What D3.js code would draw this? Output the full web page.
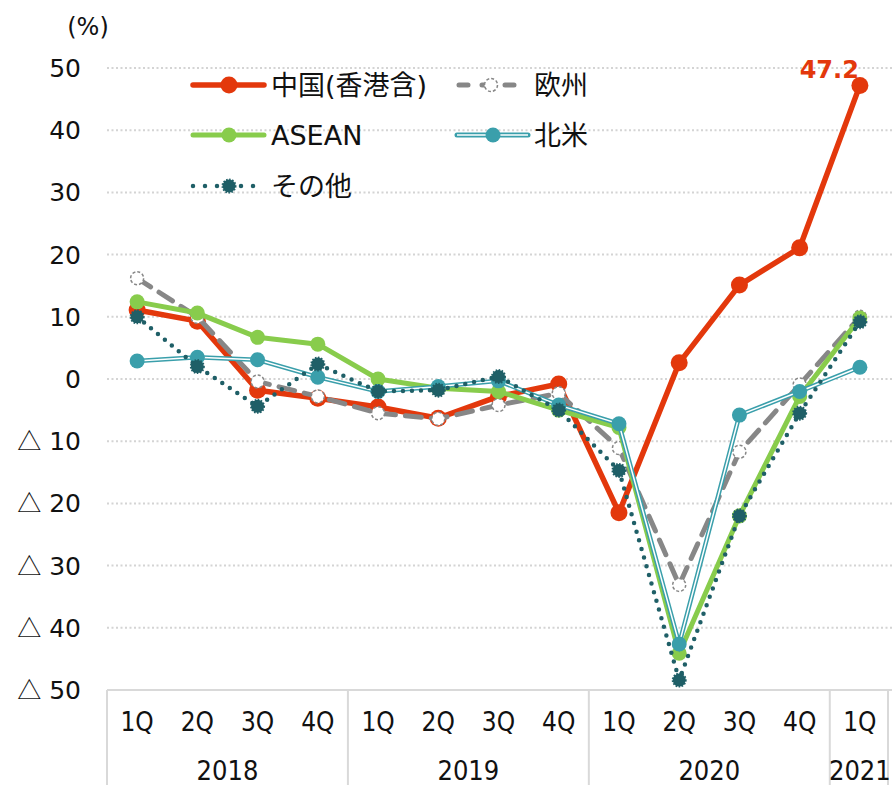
<!DOCTYPE html>
<html>
<head>
<meta charset="utf-8">
<script src="https://cdnjs.cloudflare.com/ajax/libs/d3/7.8.5/d3.min.js"></script>
<style>
  body { margin: 0; background: #fff; }
  text { font-family: "DejaVu Sans", Verdana, sans-serif; fill: #111; }
</style>
</head>
<body>
<div id="canvas"></div>
<script>
// categories
var quarters = ['1Q','2Q','3Q','4Q','1Q','2Q','3Q','4Q','1Q','2Q','3Q','4Q','1Q'];
var years = [
  {label:'2018', start:0, n:4},
  {label:'2019', start:4, n:4},
  {label:'2020', start:8, n:4},
  {label:'2021', start:12, n:1}
];
var yTicks = [50,40,30,20,10,0,-10,-20,-30,-40,-50];

// series values (%)
var china  = [11.1, 9.3, -1.8, -3.1, -4.5, -6.3, -2.8, -0.8, -21.5, 2.6, 15.1, 21.1, 47.2];
var europe = [16.2, 10.0, -0.4, -2.8, -5.5, -6.4, -4.2, -2.3, -11.1, -33.1, -11.7, -0.9, 10.0];
var asean  = [12.4, 10.6, 6.7, 5.6, 0.0, -1.5, -2.0, -5.0, -7.8, -44.1, -22.0, -2.8, 9.8];
var namer  = [2.9, 3.5, 3.1, 0.3, -2.0, -1.2, -0.3, -4.2, -7.2, -42.6, -5.8, -2.0, 1.9];
var other  = [10.0, 2.0, -4.4, 2.4, -2.0, -1.8, 0.4, -5.0, -14.7, -48.4, -22.0, -5.5, 9.2];

var W = 892, H = 785;
var m = {t:68, r:2, b:95, l:107};

var svg = d3.select('#canvas').append('svg')
  .attr('width', W).attr('height', H);

var x = d3.scaleBand().domain(d3.range(quarters.length)).range([m.l, W - m.r]);
var y = d3.scaleLinear().domain([-50, 50]).range([H - m.b, m.t]);
var cx = function(i){ return x(i) + x.bandwidth() / 2; };

// grid
svg.append('g').selectAll('line')
  .data(yTicks.filter(function(d){ return d > -50; }))
  .enter().append('line')
  .attr('x1', m.l).attr('x2', W)
  .attr('y1', function(d){ return y(d); }).attr('y2', function(d){ return y(d); })
  .attr('stroke', '#d4d4d4').attr('stroke-width', 2)
  .attr('stroke-dasharray', '2,2.5');

// y labels
var yl = svg.append('g').selectAll('text')
  .data(yTicks).enter().append('text')
  .attr('x', 81).attr('y', function(d){ return y(d); })
  .attr('dy', '0.36em').attr('text-anchor', 'end')
  .style('font-size', '25px');
yl.filter(function(d){ return d < 0; }).append('tspan')
  .style('font-family', '"Noto Sans CJK JP", sans-serif').style('font-size', '24px')
  .text('\u25B3');
yl.append('tspan').text(function(d){ return d < 0 ? ' ' + (-d) : d; });

svg.append('text').attr('x', 88).attr('y', 35).attr('text-anchor', 'middle')
  .style('font-size', '24px').text('(%)');

// x axis box
var axisG = svg.append('g');
axisG.append('line').attr('x1', m.l).attr('x2', W).attr('y1', y(-50)).attr('y2', y(-50))
  .attr('stroke', '#d9d9d9').attr('stroke-width', 2);
var seps = years.map(function(d){ return x(d.start); }).concat([x(12) + x.bandwidth() - 2]);
axisG.selectAll('.sep').data(seps).enter().append('line')
  .attr('x1', function(d){ return d; }).attr('x2', function(d){ return d; })
  .attr('y1', y(-50)).attr('y2', H)
  .attr('stroke', '#d9d9d9').attr('stroke-width', 2);

axisG.selectAll('.q').data(quarters).enter().append('text')
  .attr('x', function(d, i){ return cx(i); }).attr('y', 731)
  .attr('text-anchor', 'middle')
  .style('font-family', '"DejaVu Sans Condensed", sans-serif')
  .style('font-size', '26px')
  .text(function(d){ return d; });

axisG.selectAll('.yr').data(years).enter().append('text')
  .attr('x', function(d){ return (x(d.start) + x(d.start + d.n - 1) + x.bandwidth()) / 2; })
  .attr('y', 780)
  .attr('text-anchor', 'middle')
  .style('font-family', '"DejaVu Sans Condensed", sans-serif')
  .style('font-size', '27px')
  .text(function(d){ return d.label; });

var line = d3.line().x(function(d, i){ return cx(i); }).y(function(d){ return y(d); });

var red = '#e3380c', grey = '#878787', green = '#88cc4c', teal = '#3a9fab', dark = '#1f5f67';

// China
svg.append('path').datum(china).attr('d', line)
  .attr('fill', 'none').attr('stroke', red).attr('stroke-width', 5.5).attr('stroke-linejoin', 'round');
svg.append('g').selectAll('circle').data(china).enter().append('circle')
  .attr('cx', function(d, i){ return cx(i); }).attr('cy', function(d){ return y(d); })
  .attr('r', 8.5).attr('fill', red);

// Europe
svg.append('path').datum(europe).attr('d', line)
  .attr('fill', 'none').attr('stroke', grey).attr('stroke-width', 5)
  .attr('stroke-dasharray', '16,10').attr('stroke-linecap', 'round');
svg.append('g').selectAll('circle').data(europe).enter().append('circle')
  .attr('cx', function(d, i){ return cx(i); }).attr('cy', function(d){ return y(d); })
  .attr('r', 6.5).attr('fill', '#fff').attr('stroke', grey).attr('stroke-width', 1.5)
  .attr('stroke-dasharray', '3,2');

// ASEAN
svg.append('path').datum(asean).attr('d', line)
  .attr('fill', 'none').attr('stroke', green).attr('stroke-width', 5).attr('stroke-linejoin', 'round');
svg.append('g').selectAll('circle').data(asean).enter().append('circle')
  .attr('cx', function(d, i){ return cx(i); }).attr('cy', function(d){ return y(d); })
  .attr('r', 7.5).attr('fill', green);

// North America (double line)
svg.append('path').datum(namer).attr('d', line)
  .attr('fill', 'none').attr('stroke', teal).attr('stroke-width', 4.5);
svg.append('path').datum(namer).attr('d', line)
  .attr('fill', 'none').attr('stroke', '#fff').attr('stroke-width', 1.5);
svg.append('g').selectAll('circle').data(namer).enter().append('circle')
  .attr('cx', function(d, i){ return cx(i); }).attr('cy', function(d){ return y(d); })
  .attr('r', 7.5).attr('fill', teal);

// Other
svg.append('path').datum(other).attr('d', line)
  .attr('fill', 'none').attr('stroke', dark).attr('stroke-width', 4.5)
  .attr('stroke-dasharray', '0,9').attr('stroke-linecap', 'round');
svg.append('g').selectAll('circle').data(other).enter().append('circle')
  .attr('cx', function(d, i){ return cx(i); }).attr('cy', function(d){ return y(d); })
  .attr('r', 6.5).attr('fill', dark).attr('stroke', dark).attr('stroke-width', 2)
  .attr('stroke-dasharray', '1.5,1.5');

// value label
svg.append('text').attr('x', cx(12) - 1).attr('y', 78).attr('text-anchor', 'end')
  .style('font-size', '24px').style('font-weight', 'bold').style('fill', red)
  .text(china[12].toFixed(1));

// legend
var legend = [
  {name:'中国(香港含)', x:193, y:85, w:71, type:'china'},
  {name:'欧州', x:457, y:85, w:62, type:'europe'},
  {name:'ASEAN', x:193, y:135, w:71, type:'asean'},
  {name:'北米', x:457, y:135, w:71, type:'namer'},
  {name:'その他', x:193, y:186, w:64, type:'other'}
];
var lg = svg.append('g').selectAll('g').data(legend).enter().append('g')
  .attr('transform', function(d){ return 'translate(' + d.x + ',' + d.y + ')'; });
lg.each(function(d){
  var g = d3.select(this);
  var mx = 36;
  if (d.type === 'china') {
    g.append('line').attr('x2', d.w).attr('stroke', red).attr('stroke-width', 5.5).attr('stroke-linecap', 'round');
    g.append('circle').attr('cx', mx).attr('r', 8.5).attr('fill', red);
  } else if (d.type === 'europe') {
    g.append('line').attr('x1', 2).attr('x2', d.w).attr('stroke', grey).attr('stroke-width', 5)
      .attr('stroke-dasharray', '9,14').attr('stroke-linecap', 'round');
    g.append('circle').attr('cx', mx - 2).attr('r', 6.5).attr('fill', '#fff').attr('stroke', grey)
      .attr('stroke-width', 1.5).attr('stroke-dasharray', '3,2');
  } else if (d.type === 'asean') {
    g.append('line').attr('x2', d.w).attr('stroke', green).attr('stroke-width', 5).attr('stroke-linecap', 'round');
    g.append('circle').attr('cx', mx).attr('r', 7.5).attr('fill', green);
  } else if (d.type === 'namer') {
    g.append('line').attr('x2', d.w).attr('stroke', teal).attr('stroke-width', 5).attr('stroke-linecap', 'round');
    g.append('line').attr('x2', d.w).attr('stroke', '#fff').attr('stroke-width', 1.5);
    g.append('circle').attr('cx', mx).attr('r', 7.5).attr('fill', teal);
  } else {
    g.append('line').attr('x2', d.w).attr('stroke', dark).attr('stroke-width', 4.5)
      .attr('stroke-dasharray', '0,12').attr('stroke-linecap', 'round');
    g.append('circle').attr('cx', mx).attr('r', 6.5).attr('fill', dark).attr('stroke', dark)
      .attr('stroke-width', 2).attr('stroke-dasharray', '1.5,1.5');
  }
  g.append('text').attr('x', d.type === 'europe' || d.type === 'namer' ? 77 : 78).attr('y', 0).attr('dy', '0.36em')
    .style('font-family', '"DejaVu Sans", "Noto Sans CJK JP", sans-serif')
    .style('font-size', '27px').text(d.name);
});
</script>
</body>
</html>
